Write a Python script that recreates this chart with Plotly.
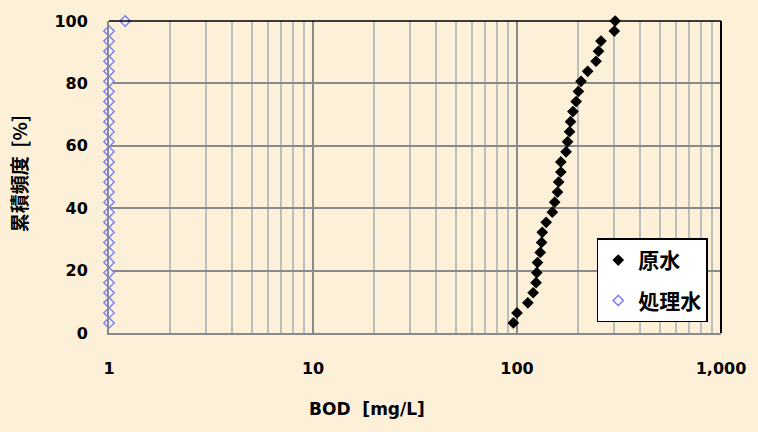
import plotly.graph_objects as go

# Cumulative frequency data
raw_bod = [96, 100, 113, 120, 124, 125, 126, 130, 132, 133, 139, 149, 153, 158, 160,
           164, 164, 174, 177, 181, 183, 188, 195, 200, 206, 222, 244, 251, 258, 300, 303]
raw_freq = [round((i + 1) / len(raw_bod) * 100, 2) for i in range(len(raw_bod))]

treated_bod = [1.0] * 30 + [1.2]
treated_freq = [round((i + 1) / len(treated_bod) * 100, 2) for i in range(len(treated_bod))]

x_tickvals = [1, 10, 100, 1000]
x_ticktext = ["1", "10", "100", "1,000"]
x_minorvals = [m * d for d in (1, 10, 100) for m in range(2, 10)]
y_tickvals = [0, 20, 40, 60, 80, 100]

BG = "#fcf0d8"
NUMFONT = "DejaVu Sans, Liberation Sans, sans-serif"
JPFONT = "Noto Sans CJK JP, sans-serif"

fig = go.Figure()
fig.add_trace(go.Scatter(
    x=raw_bod, y=raw_freq, mode="markers", name="原水",
    legendgroup="a",
    marker=dict(symbol="diamond", size=9, color="black", line=dict(width=0)),
    cliponaxis=False,
))
fig.add_trace(go.Scatter(
    x=treated_bod, y=treated_freq, mode="markers", name="処理水",
    legendgroup="b",
    marker=dict(symbol="diamond", size=8, color="#f4f4ff", line=dict(width=1.4, color="#7b7bf0")),
    cliponaxis=False,
))

fig.update_layout(
    width=758, height=432,
    margin=dict(l=109, r=34, t=16, b=99),
    paper_bgcolor=BG, plot_bgcolor=BG,
    showlegend=True,
    legend=dict(
        x=0.797, y=0.303, xanchor="left", yanchor="top",
        bgcolor="white", bordercolor="black", borderwidth=1.5,
        font=dict(family=JPFONT, size=21, color="black", weight="bold"),
        traceorder="grouped", tracegroupgap=10,
        itemwidth=30,
    ),
    xaxis=dict(
        type="log", range=[0, 3],
        tickmode="array", tickvals=x_tickvals, ticktext=x_ticktext,
        tickfont=dict(family=NUMFONT, size=16, color="black", weight="bold"),
        ticks="", ticklabelstandoff=20,
        showgrid=True, gridcolor="#8a8a8a", gridwidth=2,
        minor=dict(tickmode="array", tickvals=x_minorvals, showgrid=True,
                   gridcolor="#bdbdbd", gridwidth=2, ticks=""),
        showline=True, linecolor="#8a8a8a", linewidth=2,
        zeroline=False,
    ),
    yaxis=dict(
        range=[0, 100],
        tickmode="array", tickvals=y_tickvals,
        tickfont=dict(family=NUMFONT, size=16, color="black", weight="bold"),
        ticks="", ticklabelstandoff=16,
        showgrid=True, gridcolor="#8a8a8a", gridwidth=2,
        showline=True, linecolor="#8a8a8a", linewidth=2,
        zeroline=False,
    ),
    annotations=[
        dict(text="BOD  [mg/L]", xref="paper", yref="paper", x=0.421, y=-0.243,
             showarrow=False, xanchor="center", yanchor="middle",
             font=dict(family=NUMFONT, size=17, color="black", weight="bold")),
        dict(text="累積頻度  [%]", xref="paper", yref="paper", x=-0.148, y=0.51,
             showarrow=False, textangle=-90, xanchor="center", yanchor="middle",
             font=dict(family=JPFONT, size=19, color="black", weight="bold")),
    ],
    shapes=[
        dict(type="line", xref="paper", yref="paper", x0=0, x1=1, y0=1, y1=1,
             line=dict(color="black", width=1.5), layer="above"),
        dict(type="line", xref="paper", yref="paper", x0=1, x1=1, y0=0, y1=1,
             line=dict(color="black", width=2), layer="above"),
    ],
)

fig.write_html("out.html")
